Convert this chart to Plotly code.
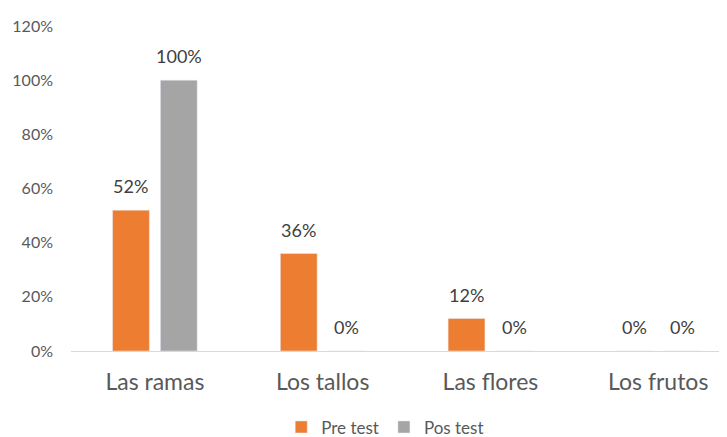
import plotly.graph_objects as go

# datos
categorias = ["Las ramas", "Los tallos", "Las flores", "Los frutos"]
pre_test = [52, 36, 12, 0]
pos_test = [100, 0, 0, 0]
ticks_y = [0, 20, 40, 60, 80, 100, 120]

naranja = "#ED7D31"
gris = "#A5A5A5"
texto = "#595959"
fuente = "Lato, Open Sans, sans-serif"

fig = go.Figure()
fig.add_trace(go.Bar(x=categorias, y=pre_test, name="Pre test",
                     marker=dict(color=naranja), hoverinfo="skip"))
fig.add_trace(go.Bar(x=categorias, y=pos_test, name="Pos test",
                     marker=dict(color=gris), hoverinfo="skip"))

# etiquetas de datos encima de cada barra
for serie, desplaz in ((pre_test, -24), (pos_test, 24)):
    for cat, val in zip(categorias, serie):
        fig.add_annotation(x=cat, y=val, text=f"{val}%", showarrow=False,
                           xshift=desplaz, yshift=24, yanchor="middle",
                           font=dict(family=fuente, size=18, color="#404040"))

# la página deja 8px de margen en el body, por eso 719x429
fig.update_layout(
    width=719, height=429,
    margin=dict(l=63, r=0, t=18, b=86, autoexpand=False),
    plot_bgcolor="white", paper_bgcolor="white",
    barmode="group", bargap=0.43, bargroupgap=0.23,
    font=dict(family=fuente, color=texto),
    legend=dict(orientation="h", x=0.479, xanchor="center", y=-0.235,
                yanchor="middle", font=dict(size=17, color=texto),
                itemwidth=30, traceorder="normal"),
)
fig.update_xaxes(range=[-0.5, 3.41], showline=True, linecolor="#D9D9D9",
                 linewidth=1, showgrid=False, ticks="", automargin=False,
                 tickfont=dict(size=23, color=texto), ticklabelstandoff=10)
fig.update_yaxes(range=[0, 120], tickvals=ticks_y, automargin=False,
                 ticktext=[f"{t}%" for t in ticks_y], showgrid=False,
                 zeroline=False, showline=False,
                 tickfont=dict(size=16, color=texto), ticklabelstandoff=17)

fig.write_html("out.html")
